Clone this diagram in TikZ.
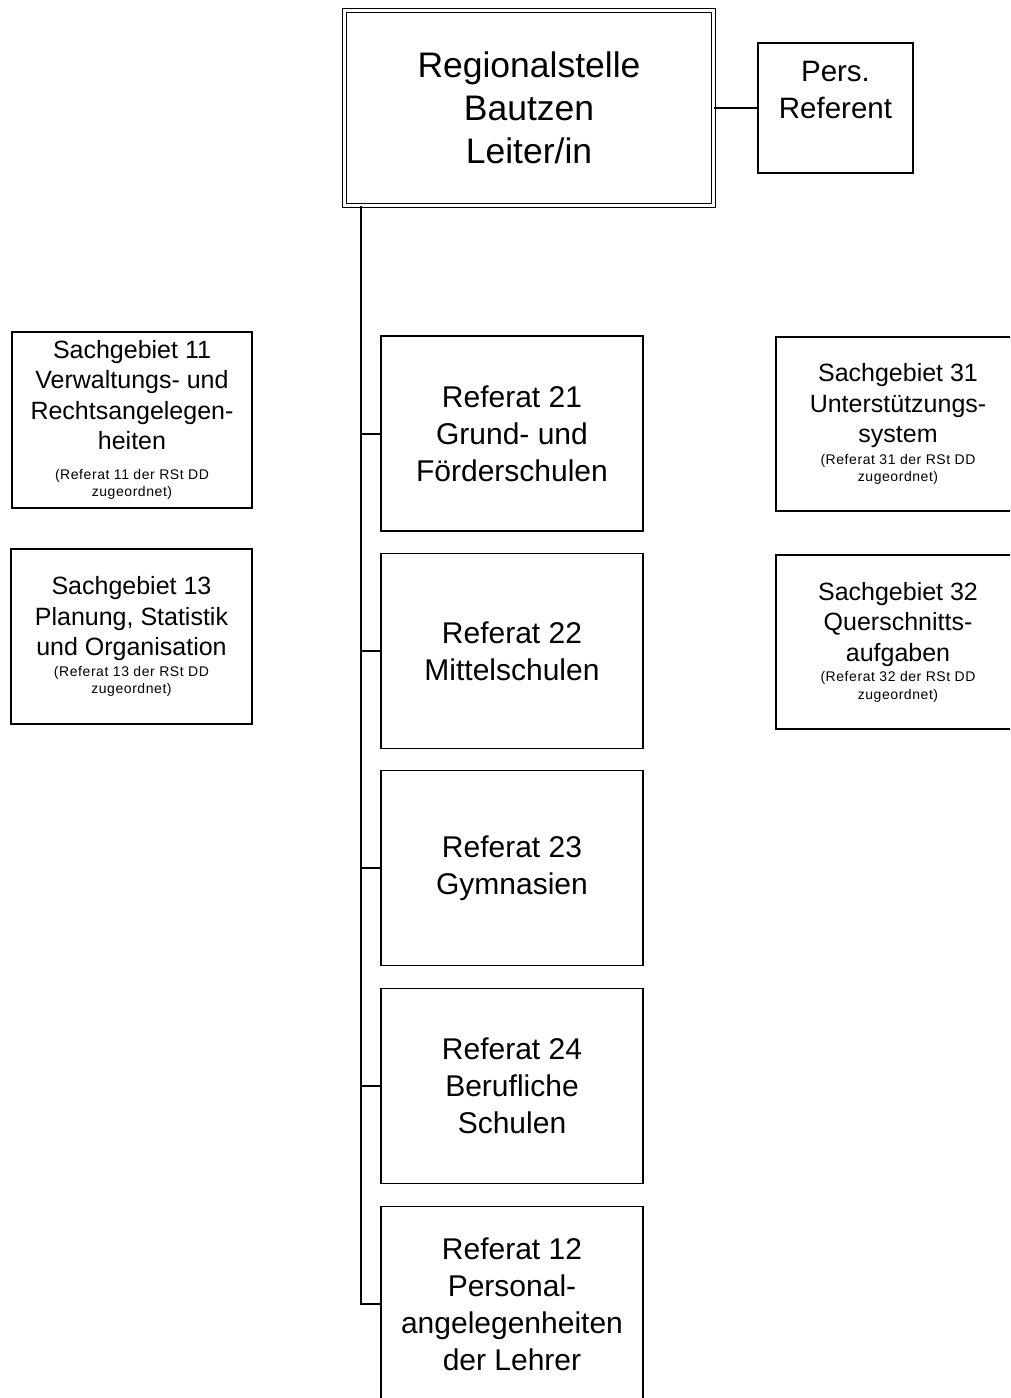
\documentclass[tikz,border=0pt]{standalone}
\usepackage{fontspec}
\setmainfont{Liberation Sans}
\newcommand\smalltxt[1]{{\fontsize{14}{17}\selectfont\addfontfeature{LetterSpace=4}#1}}
\tikzset{
  box/.style={draw, line width=1.4pt, inner sep=0pt, outer sep=0pt, align=center, anchor=center},
  refbox/.style={box, minimum width=262pt, minimum height=195pt, font=\fontsize{30}{37}\selectfont},
  sgbox/.style={box, font=\fontsize{25}{30.5}\selectfont},
  conn/.style={line width=2pt},
}
\begin{document}
\begin{tikzpicture}[x=1pt,y=-1pt]
\useasboundingbox (0,0) rectangle (1010,1398);
\clip (0,0) rectangle (1010,1398);
\fill[white] (0,0) rectangle (1010,1398);

% head
\node[box, line width=1.2pt, double, double distance=2.6pt, minimum width=369pt, minimum height=195pt,
      font=\fontsize{35.5}{43}\selectfont] (top) at (529,108) {Regionalstelle\\Bautzen\\Leiter/in};
\node[box, minimum width=155pt, minimum height=130pt, font=\fontsize{29.5}{36.5}\selectfont]
      (pers) at (835.5,108) {Pers.\\Referent\\\mbox{}};
\draw[conn] (top.east) -- (pers.west);

% Referate
\node[refbox] (r21) at (512,433.5) {Referat 21\\Grund- und\\Förderschulen};
\node[refbox] (r22) at (512,651) {Referat 22\\Mittelschulen};
\node[refbox] (r23) at (512,868) {Referat 23\\Gymnasien};
\node[refbox] (r24) at (512,1086) {Referat 24\\Berufliche\\Schulen};
\node[refbox] (r12) at (512,1304) {Referat 12\\Personal-\\angelegenheiten\\der Lehrer};

% spine
\coordinate (sp) at (361,205.5);
\draw[conn] (sp) |- (r12.west);
\foreach \r in {r21,r22,r23,r24}{
  \draw[conn] (sp |- \r.west) -- (\r.west);
}

% Sachgebiete left
\node[sgbox, minimum width=240pt, minimum height=176pt] (sg11) at (132,420)
  {Sachgebiet 11\\Verwaltungs- und\\Rechtsangelegen-\\heiten\\[-1pt]\smalltxt{(Referat 11 der RSt DD}\\[-13pt]\smalltxt{zugeordnet)}};
\node[sgbox, minimum width=241pt, minimum height=175pt] (sg13) at (131.5,636.5)
  {Sachgebiet 13\\Planung, Statistik\\und Organisation\\[-10pt]\smalltxt{(Referat 13 der RSt DD}\\[-13pt]\smalltxt{zugeordnet)}};

% Sachgebiete right
\node[sgbox, minimum width=244pt, minimum height=174pt] (sg31) at (898,424)
  {Sachgebiet 31\\Unterstützungs-\\system\\[-9pt]\smalltxt{(Referat 31 der RSt DD}\\[-13pt]\smalltxt{zugeordnet)}};
\node[sgbox, minimum width=244pt, minimum height=174pt] (sg32) at (898,642)
  {Sachgebiet 32\\Querschnitts-\\aufgaben\\[-10pt]\smalltxt{(Referat 32 der RSt DD}\\[-13pt]\smalltxt{zugeordnet)}};
\end{tikzpicture}
\end{document}
